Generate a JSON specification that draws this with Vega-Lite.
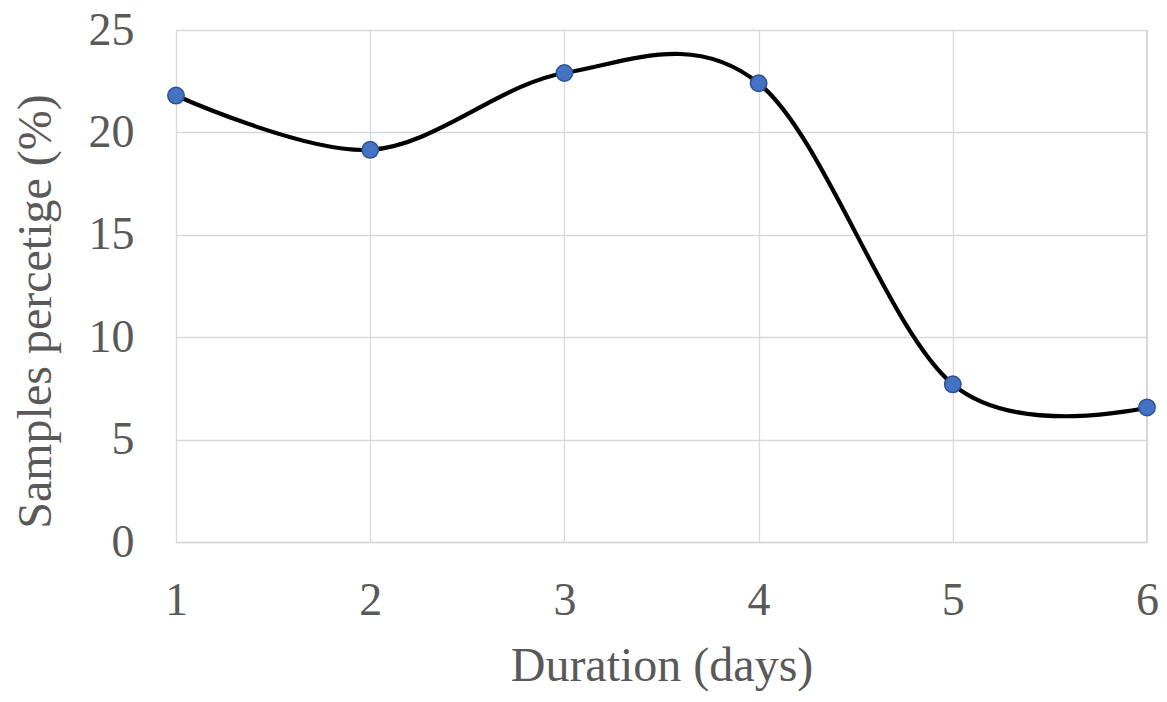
{
  "$schema": "https://vega.github.io/schema/vega-lite/v6.json",
  "width": 971,
  "height": 512,
  "autosize": {"type": "none"},
  "padding": {"left": 176, "top": 30, "right": 20, "bottom": 160},
  "background": "white",
  "config": {
    "view": {"stroke": null},
    "font": "Liberation Serif",
    "axis": {
      "labelFont": "Liberation Serif",
      "titleFont": "Liberation Serif",
      "labelColor": "#595959",
      "titleColor": "#595959",
      "titleFontWeight": "normal",
      "gridColor": "#d9d9d9",
      "gridWidth": 1.3,
      "domainColor": "#d9d9d9",
      "domainWidth": 1.3,
      "ticks": false,
      "labelFlush": false,
      "labelOverlap": false
    }
  },
  "data": {
    "values": [
      {"day": 1, "pct": 21.8},
      {"day": 2, "pct": 19.15},
      {"day": 3, "pct": 22.9},
      {"day": 4, "pct": 22.4},
      {"day": 5, "pct": 7.7},
      {"day": 6, "pct": 6.57}
    ]
  },
  "encoding": {
    "x": {
      "field": "day",
      "type": "quantitative",
      "scale": {"domain": [1, 6], "nice": false, "zero": false},
      "axis": {
        "title": "Duration (days)",
        "values": [1, 2, 3, 4, 5, 6],
        "labelFontSize": 46,
        "labelPadding": 36,
        "titleFontSize": 48,
        "titleY": 138,
        "titleBaseline": "alphabetic",
        "grid": true,
        "domain": true
      }
    },
    "y": {
      "field": "pct",
      "type": "quantitative",
      "scale": {"domain": [0, 25], "nice": false},
      "axis": {
        "title": "Samples percetige (%)",
        "values": [0, 5, 10, 15, 20, 25],
        "labelFontSize": 46,
        "labelPadding": 42,
        "titleFontSize": 48,
        "titleAngle": -90,
        "titleX": -126,
        "titleY": 281,
        "titleAlign": "center",
        "titleBaseline": "alphabetic",
        "grid": true,
        "domain": false
      }
    }
  },
  "layer": [
    {
      "mark": {"type": "rule", "color": "#d9d9d9", "strokeWidth": 1.3},
      "encoding": {
        "x": {"datum": 6, "type": "quantitative"},
        "y": {"datum": 0, "type": "quantitative"},
        "y2": {"datum": 25}
      }
    },
    {
      "mark": {"type": "line", "interpolate": "cardinal", "color": "black", "strokeWidth": 4.2}
    },
    {
      "mark": {"type": "point", "shape": "circle", "filled": true, "size": 270, "fill": "#4472C4", "stroke": "#2F528F", "strokeWidth": 1.5, "opacity": 1}
    }
  ]
}
